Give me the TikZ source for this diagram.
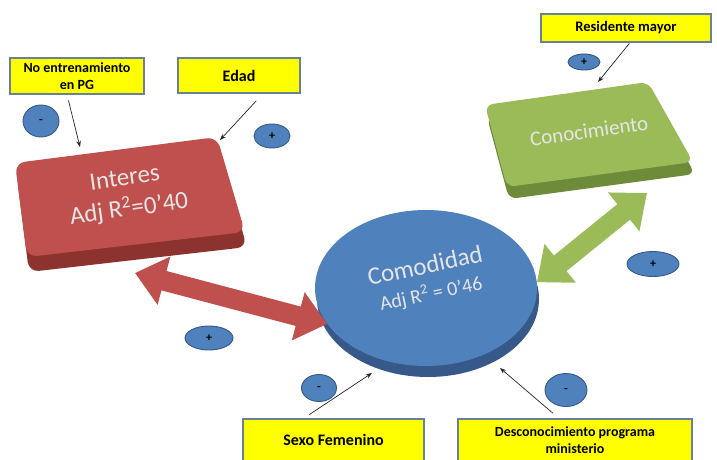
\documentclass[tikz,border=0pt]{standalone}
\usepackage{fontspec}
\setmainfont{Carlito}
\usepackage{tikz}
\usetikzlibrary{
  arrows.meta,
  positioning,
  calc,
  shapes.geometric
}
\definecolor{rojo}{HTML}{C0504D}
\definecolor{rojooscuro}{HTML}{8C3330}
\definecolor{verde}{HTML}{9BBB59}
\definecolor{verdeoscuro}{HTML}{6E8B3A}
\definecolor{azul}{HTML}{4F81BD}
\definecolor{azuloscuro}{HTML}{36598A}
\definecolor{amarillo}{HTML}{FFFF00}
\definecolor{borde}{HTML}{6A7F99}

\begin{document}
\begin{tikzpicture}[
      x=1pt, y=-1pt,
      >=Stealth,
      factor/.style={draw=borde, line width=1.2pt, fill=amarillo, align=center,
                     font=\fontsize{14}{17}\selectfont\bfseries, inner sep=2pt},
      signo/.style={ellipse, draw=azuloscuro, line width=0.9pt, fill=azul,
                    inner sep=0pt, font=\fontsize{12}{12}\selectfont\bfseries},
      flecha/.style={->, line width=0.7pt, black!85},
      bloque/.style={line width=20pt,
                     {Triangle[length=30pt,width=48pt]}-{Triangle[length=30pt,width=48pt]}},
      rotulo/.style={text=white!90!black, align=center}
  ]
      \clip (0,0) rectangle (717,459);
      \fill[white] (0,0) rectangle (717,459);

      % Factores (cajas amarillas)
      \node[factor, minimum width=134pt, minimum height=36pt] (noent) at (77,76)
            {No entrenamiento\\en PG};
      \node[factor, minimum width=122pt, minimum height=35pt, font=\fontsize{16}{17}\selectfont\bfseries]
            (edad)  at (239,75.5) {Edad};
      \node[factor, minimum width=170pt, minimum height=28pt, font=\fontsize{14.5}{17}\selectfont\bfseries]
            (resid) at (626,28) {Residente mayor};
      \node[factor, minimum width=181pt, minimum height=42pt, font=\fontsize{16}{18}\selectfont\bfseries]
            (sexo)  at (333.5,440) {Sexo Femenino};
      \node[factor, minimum width=234pt, minimum height=42pt, font=\fontsize{14}{17}\selectfont\bfseries]
            (desc)  at (575,440) {Desconocimiento programa\\ministerio};

      % Interes (caja roja en relieve)
      \fill[rojooscuro, rounded corners=10pt] (17,178) -- (219,152) -- (247,247) -- (29,272) -- cycle;
      \fill[rojo, rounded corners=10pt] (15,163) -- (217,137) -- (245,232) -- (27,257) -- cycle;
      \node[rotulo, rotate=8, font=\fontsize{25}{31}\selectfont] (int) at (127,195)
            {Interes\\Adj R\textsuperscript{2}=0’40};

      % Conocimiento (caja verde en relieve)
      \fill[verdeoscuro, rounded corners=8pt] (487,117) -- (650,94) -- (695,174) -- (509,199) -- cycle;
      \fill[verde, rounded corners=8pt] (485,105) -- (648,82) -- (693,162) -- (507,187) -- cycle;
      \node[rotulo, rotate=8, font=\fontsize{21}{24}\selectfont] (con) at (589,131) {Conocimiento};

      % Comodidad (disco azul)
      \node[ellipse, fill=azuloscuro, minimum width=222pt, minimum height=156pt] (comlado) at (428,299) {};
      \node[ellipse, fill=azul, minimum width=222pt, minimum height=156pt] (com) at (426,288) {};
      \node[rotulo, rotate=12, font=\fontsize{20}{27}\selectfont] (comtxt) at (428,280)
            {{\fontsize{25}{27}\selectfont Comodidad}\\
             Adj R\textsuperscript{2} = 0’46};

      % Relaciones entre constructos
      \coordinate (r-ini) at (135,273);
      \coordinate (v-ini) at (647,193);
      \draw[bloque, rojo]  (r-ini) -- (com.200);
      \draw[bloque, verde] (v-ini) -- (com.3);

      % Flechas de los factores
      \coordinate (p-noent) at (80,147);
      \coordinate (p-edad)  at (220,140);
      \coordinate (p-resid) at (598,82);
      \coordinate (p-sexo)  at (372,373);
      \coordinate (p-desc)  at (500,368);
      \draw[flecha, shorten <=6pt]  ([xshift=-10pt]noent.south) -- (p-noent);
      \draw[flecha, shorten <=10pt] ([xshift=24pt]edad.south)   -- (p-edad);
      \draw[flecha, shorten <=1pt]  ([xshift=4pt]resid.south)   -- (p-resid);
      \draw[flecha, shorten <=7pt]  ([xshift=-30pt]sexo.north)  -- (p-sexo);
      \draw[flecha, shorten <=8pt]  ([xshift=-16pt]desc.north)  -- (p-desc);

      % Signos
      \node[signo, minimum width=36pt, minimum height=32pt] (s-noent) at (41,121)  {-};
      \node[signo, minimum width=36pt, minimum height=24pt] (s-edad)  at (272,136) {+};
      \node[signo, minimum width=32pt, minimum height=16pt] (s-resid) at (584,62)  {+};
      \node[signo, minimum width=52pt, minimum height=25pt] (s-con)   at (653,264) {+};
      \node[signo, minimum width=48pt, minimum height=24pt] (s-int)   at (209,338) {+};
      \node[signo, minimum width=35pt, minimum height=27pt] (s-sexo)  at (319,388) {-};
      \node[signo, minimum width=42pt, minimum height=33pt] (s-desc)  at (566,390) {-};
  \end{tikzpicture}
\end{document}
